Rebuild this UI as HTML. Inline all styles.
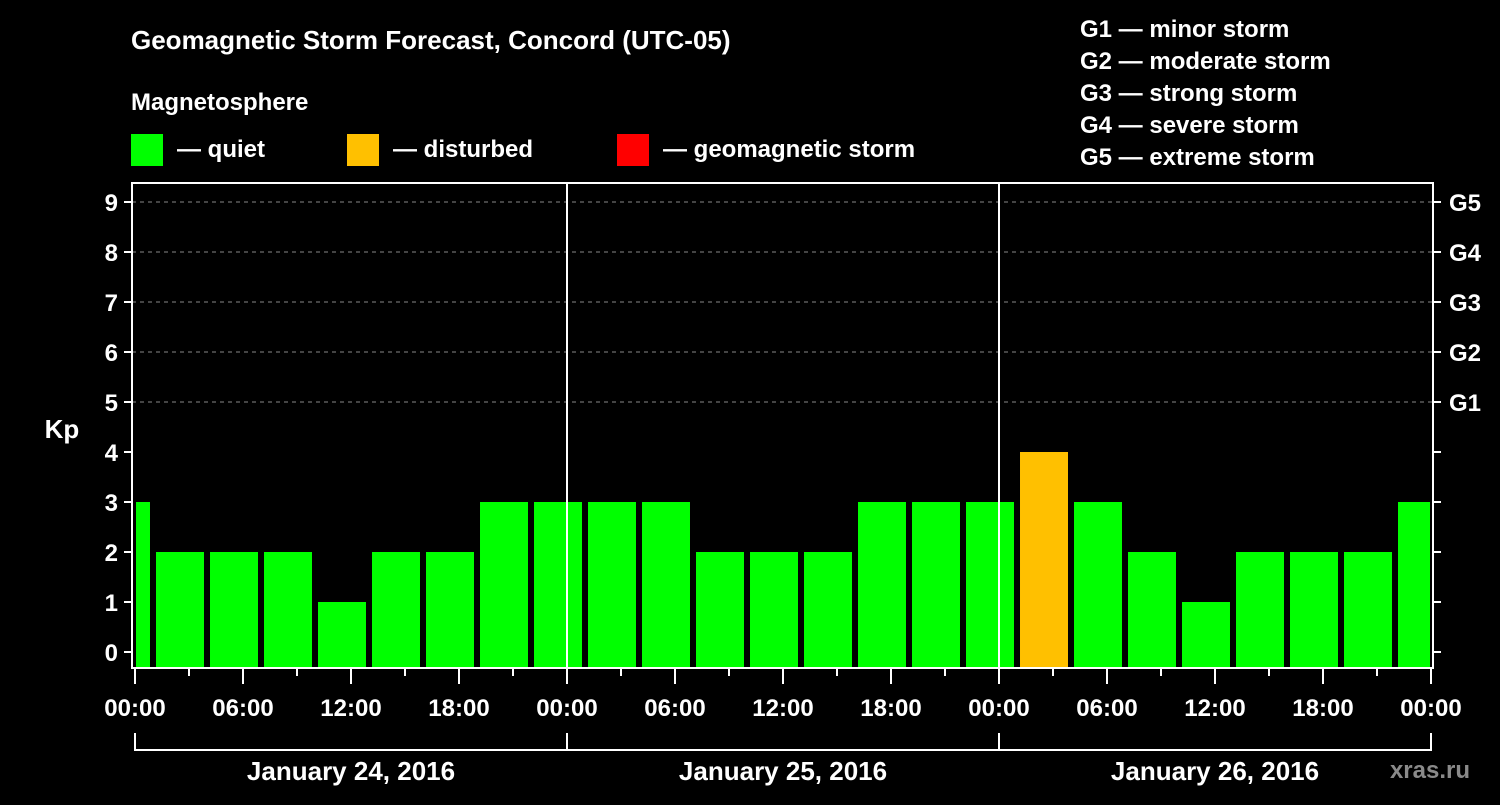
<!DOCTYPE html>
<html><head><meta charset="utf-8"><style>
body{margin:0;background:#000;width:1500px;height:800px;overflow:hidden}
svg text{font-family:"Liberation Sans",Arial,sans-serif;font-weight:bold;fill:#fff}
</style></head><body>
<svg id="c" width="1500" height="800">
<text x="131" y="49" font-size="26">Geomagnetic Storm Forecast, Concord (UTC-05)</text>
<text x="131" y="110" font-size="24">Magnetosphere</text>
<g><rect x="131" y="134" width="32" height="32" fill="#00ff00"/><text x="177" y="157" font-size="24">— quiet</text></g>
<g><rect x="347" y="134" width="32" height="32" fill="#ffc000"/><text x="393" y="157" font-size="24">— disturbed</text></g>
<g><rect x="617" y="134" width="32" height="32" fill="#ff0000"/><text x="663" y="157" font-size="24">— geomagnetic storm</text></g>
<g font-size="24">
<text x="1080" y="37">G1 — minor storm</text>
<text x="1080" y="69">G2 — moderate storm</text>
<text x="1080" y="101">G3 — strong storm</text>
<text x="1080" y="133">G4 — severe storm</text>
<text x="1080" y="165">G5 — extreme storm</text>
</g>
<text x="62" y="438" font-size="26" text-anchor="middle">Kp</text>
<text x="1470" y="778" font-size="24" text-anchor="end" fill="#888" style="fill:#8a8a8a">xras.ru</text>
<g id="g"></g>
</svg>
<script>
const kpValues=[3,2,2,2,1,2,2,3,3,3,3,2,2,2,3,3,3,4,3,2,1,2,2,2,3];
const barHours=kpValues.map((v,i)=>3*i-0.5);
const yTicks=[0,1,2,3,4,5,6,7,8,9];
const gLabels=["G1","G2","G3","G4","G5"];
const gLevels=[5,6,7,8,9];
const xTickLabels=["00:00","06:00","12:00","18:00","00:00","06:00","12:00","18:00","00:00","06:00","12:00","18:00","00:00"];
const dayLabels=["January 24, 2016","January 25, 2016","January 26, 2016"];
const X0=135,PXH=18,Y0=652,PXK=50,L=132,R=1433,T=183,B=668;
const xs=h=>X0+h*PXH, ys=k=>Y0-k*PXK;
const g=document.getElementById('g');
const NS="http://www.w3.org/2000/svg";
function mk(t,a){const e=document.createElementNS(NS,t);for(const k in a)e.setAttribute(k,a[k]);g.appendChild(e);return e;}
yTicks.forEach(k=>{if(k>=5){const l=mk('line',{x1:L,x2:R,y1:ys(k),y2:ys(k),stroke:'#888','stroke-dasharray':'4,4'});

}
const t=mk('line',{x1:L-8,x2:L,y1:ys(k),y2:ys(k),stroke:'#fff','stroke-width':2});


const t2=mk('line',{x1:R,x2:R+8,y1:ys(k),y2:ys(k),stroke:'#fff','stroke-width':2});


const tx=mk('text',{x:L-14,y:ys(k)+9,'font-size':24,'text-anchor':'end'});tx.textContent=k;

});
gLabels.forEach((s,i)=>{const tx=mk('text',{x:1449,y:ys(gLevels[i])+9,'font-size':24});tx.textContent=s;

});
kpValues.forEach((v,i)=>{let a=xs(barHours[i]-1.333),b=xs(barHours[i]+1.333);a=Math.max(a,X0+1);b=Math.min(b,xs(72)-1);
const r=mk('rect',{x:a,y:ys(v),width:b-a,height:B-ys(v),fill:v>=5?'#ff0000':v>=4?'#ffc000':'#00ff00'});

});
const f=mk('rect',{x:L,y:T,width:R-L,height:B-T,fill:'none',stroke:'#fff','stroke-width':2});


[24,48].forEach(h=>{const l=mk('line',{x1:xs(h),x2:xs(h),y1:T,y2:B,stroke:'#fff','stroke-width':2});

});
for(let h=0;h<=72;h+=3){const l=mk('line',{x1:xs(h),x2:xs(h),y1:B,y2:B+(h%6?8:16),stroke:'#fff','stroke-width':2});

}
xTickLabels.forEach((s,i)=>{const tx=mk('text',{x:xs(i*6),y:716,'font-size':24,'text-anchor':'middle'});tx.textContent=s;

});
const br=mk('polyline',{points:`${xs(0)},733 ${xs(0)},750 ${xs(72)},750 ${xs(72)},733`,fill:'none',stroke:'#fff','stroke-width':2});


[24,48].forEach(h=>{const l=mk('line',{x1:xs(h),x2:xs(h),y1:733,y2:750,stroke:'#fff','stroke-width':2});

});
dayLabels.forEach((s,i)=>{const tx=mk('text',{x:xs(i*24+12),y:780,'font-size':26,'text-anchor':'middle'});tx.textContent=s;

});
</script>
</body></html>
